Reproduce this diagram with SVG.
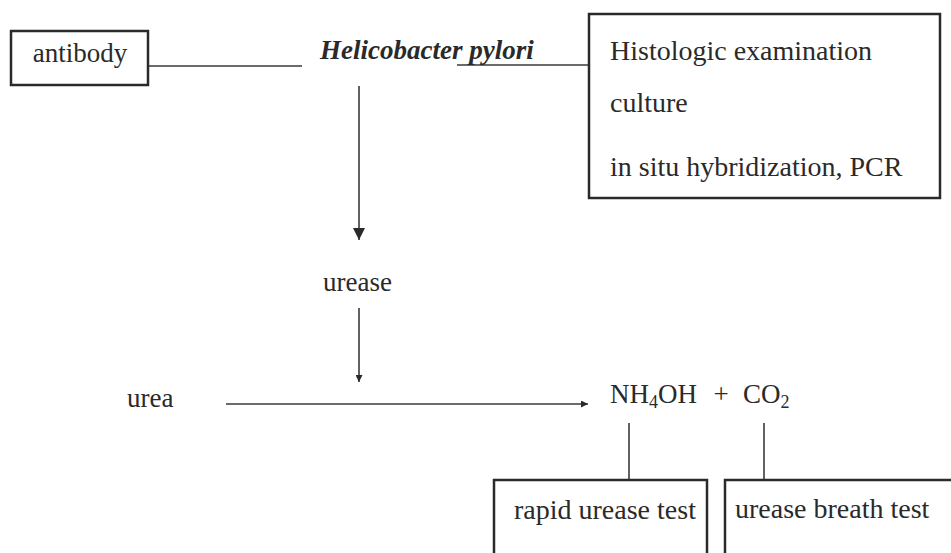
<svg xmlns="http://www.w3.org/2000/svg" width="951" height="553" viewBox="0 0 951 553">
<style>
text{font-family:"Liberation Serif","Times New Roman",serif;font-size:27px;fill:#2a2a2a}
.big{font-size:28px}
.box{fill:none;stroke:#2a2a2a;stroke-width:2.5}
.ln{fill:none;stroke:#3a3a3a;stroke-width:1.6}
.sub{font-size:18px}
</style>
<defs>
<marker id="ah" viewBox="0 0 10 10" refX="10" refY="5" markerWidth="7" markerHeight="7" markerUnits="userSpaceOnUse" orient="auto">
<path d="M0,0 L10,5 L0,10 Z" fill="#2a2a2a"/>
</marker>
<marker id="ahb" viewBox="0 0 10 10" refX="10" refY="5" markerWidth="12" markerHeight="12" markerUnits="userSpaceOnUse" orient="auto">
<path d="M0,0 L10,5 L0,10 Z" fill="#2a2a2a"/>
</marker>
</defs>
<rect width="951" height="553" fill="#fff"/>
<g id="connectors">
<line class="ln" x1="148" y1="66" x2="302" y2="66"/>
<line class="ln" x1="457" y1="65" x2="589" y2="65"/>
<line class="ln" x1="359" y1="86" x2="359" y2="240" marker-end="url(#ahb)"/>
<line class="ln" x1="359" y1="308" x2="359" y2="382" marker-end="url(#ah)"/>
<line class="ln" x1="226" y1="404" x2="588" y2="404" marker-end="url(#ah)"/>
<line class="ln" x1="629" y1="423" x2="629" y2="480"/>
<line class="ln" x1="764" y1="423" x2="764" y2="480"/>
</g>
<g id="antibody">
<rect class="box" x="11" y="31" width="137" height="54"/>
<text x="80" y="62" text-anchor="middle">antibody</text>
</g>
<g id="hpylori">
<text x="320" y="59" font-weight="bold" font-style="italic">Helicobacter pylori</text>
</g>
<g id="methods">
<rect class="box" x="589" y="14" width="351" height="184"/>
<text class="big" x="610" y="60">Histologic examination</text>
<text class="big" x="610" y="112">culture</text>
<text class="big" x="610" y="176">in situ hybridization, PCR</text>
</g>
<g id="urease">
<text x="323" y="291">urease</text>
</g>
<g id="urea">
<text x="127" y="407">urea</text>
</g>
<g id="products">
<text x="610" y="403">NH<tspan class="sub" dy="5">4</tspan><tspan dy="-5">OH</tspan></text>
<text x="721" y="403" text-anchor="middle" font-size="20" fill="#777">+</text>
<text x="743" y="403">CO<tspan class="sub" dy="5">2</tspan></text>
</g>
<g id="rapid">
<path class="box" d="M494,560 V480 H707 V560"/>
<text class="big" x="514" y="519">rapid urease test</text>
</g>
<g id="breath">
<path class="box" d="M725,560 V480 H955"/>
<text class="big" x="735" y="518">urease breath test</text>
</g>
</svg>
